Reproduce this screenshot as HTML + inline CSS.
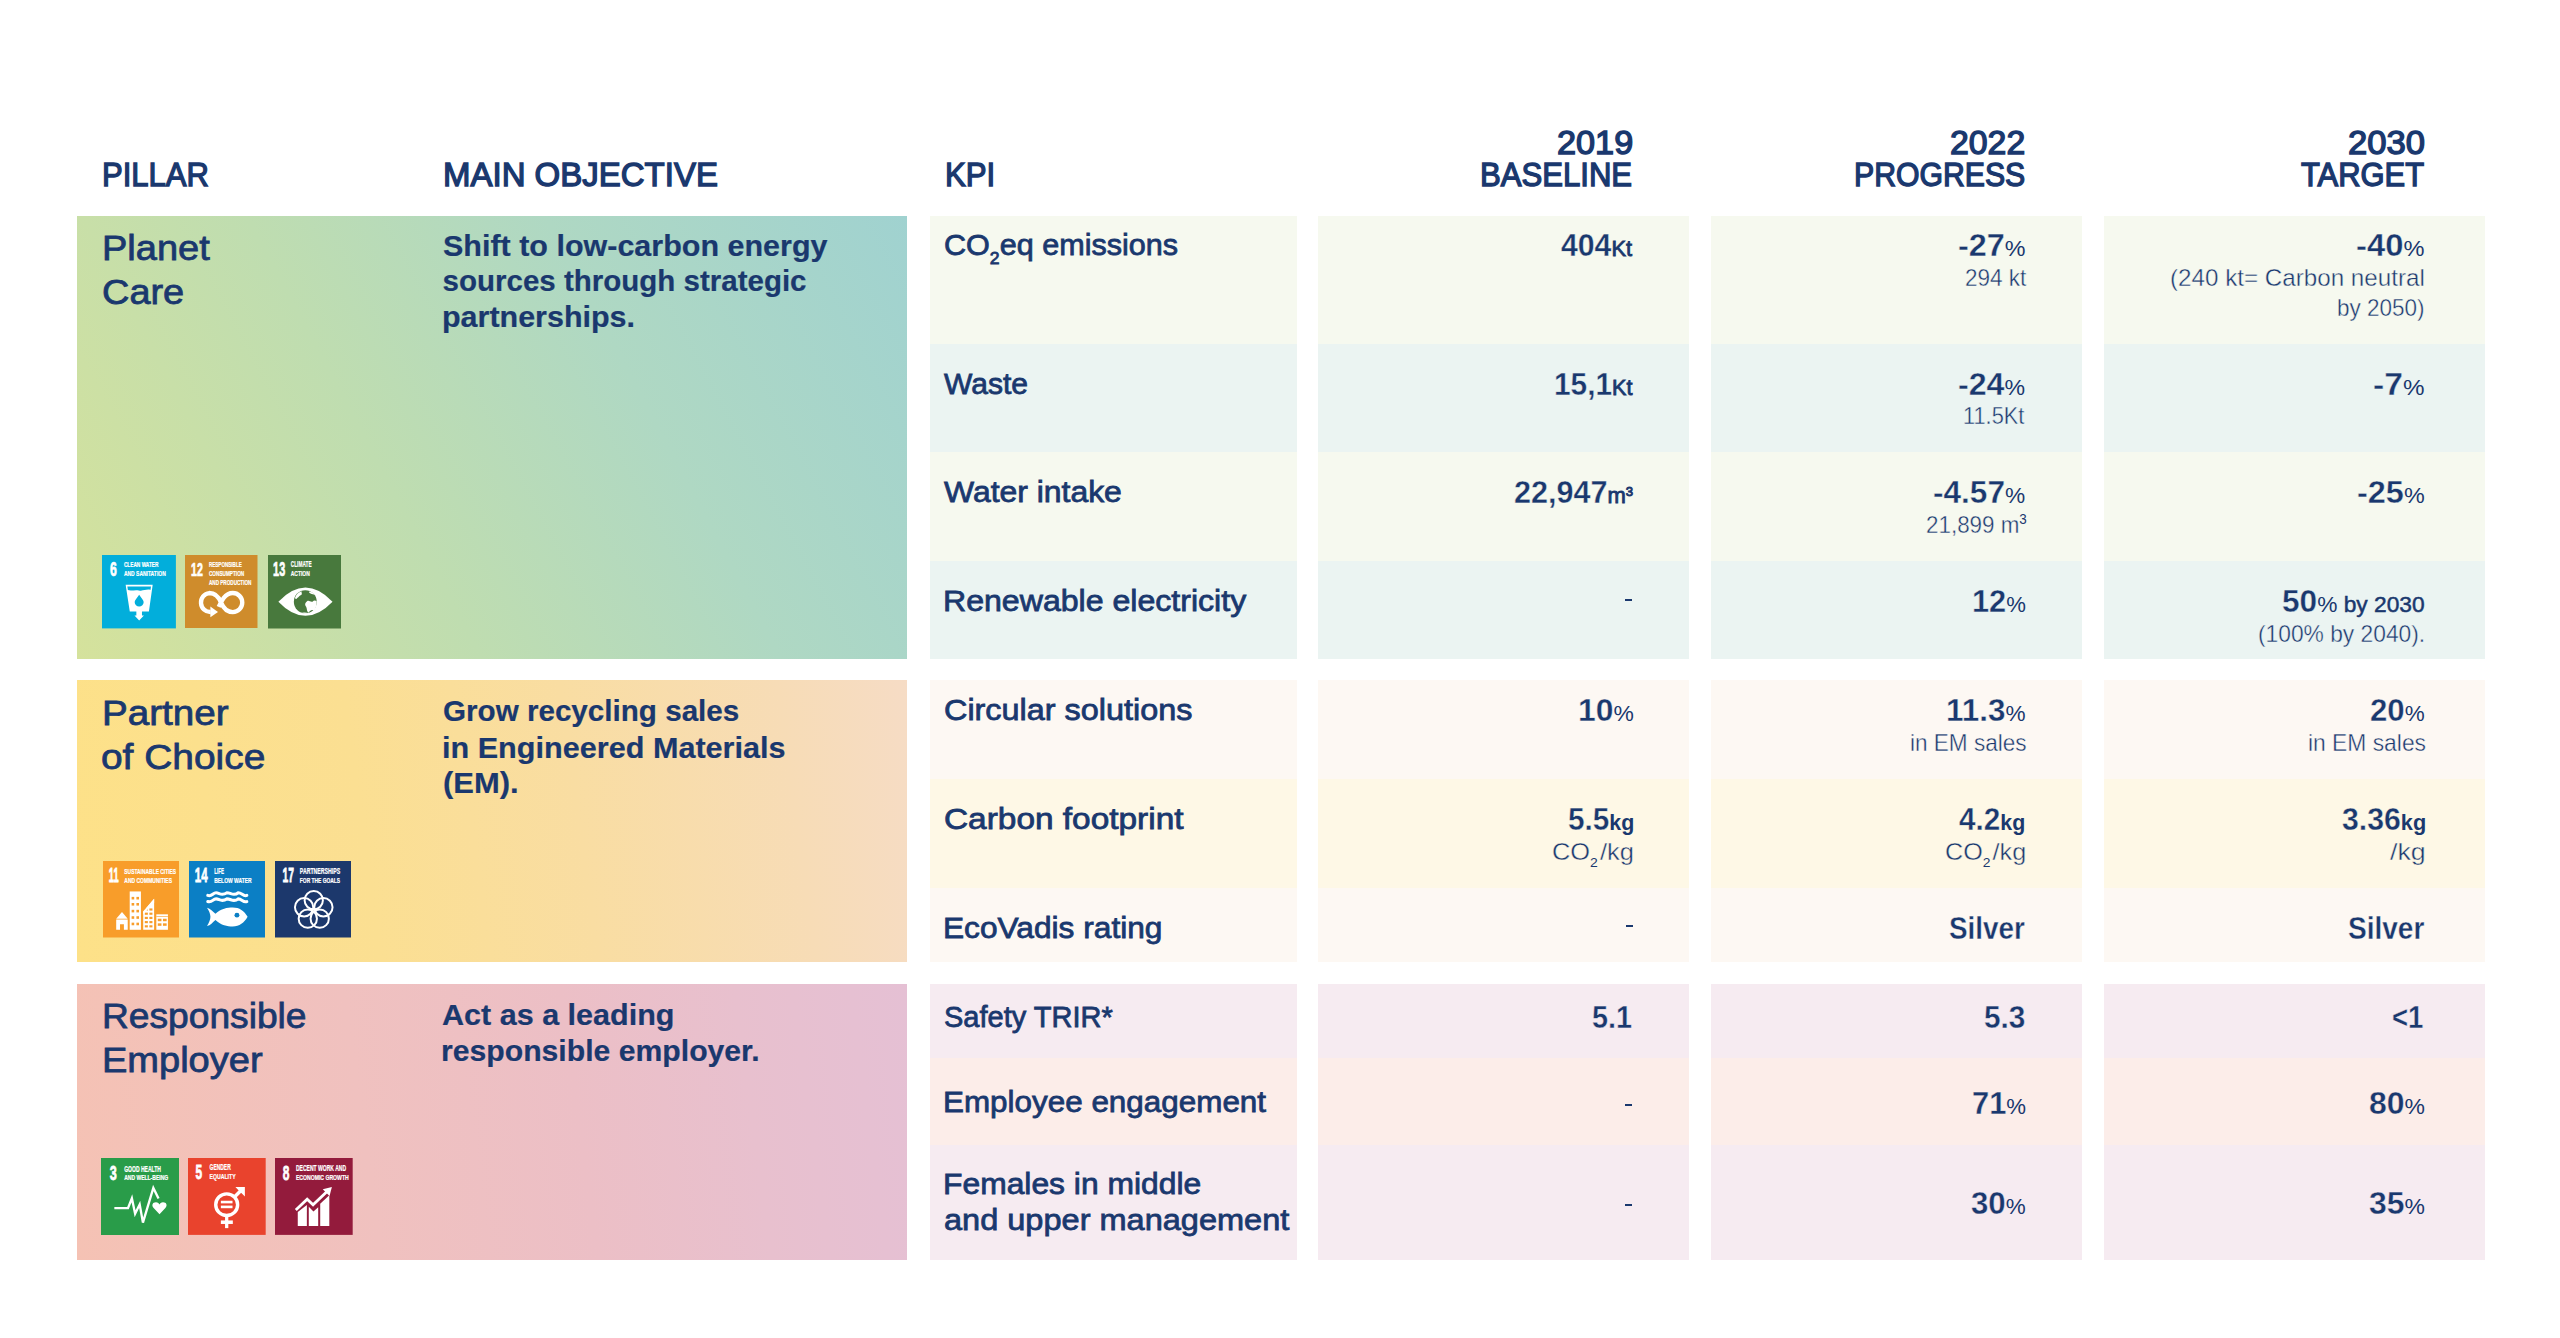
<!DOCTYPE html>
<html><head><meta charset="utf-8"><title>KPI</title><style>
*{margin:0;padding:0;box-sizing:border-box}
html,body{width:2560px;height:1338px;overflow:hidden;background:#fff}
body{position:relative;font-family:"Liberation Sans",sans-serif;color:#1a386e}
.t{position:absolute;white-space:nowrap;line-height:1;transform-origin:0 0}
.u{font-size:0.72em;font-weight:400;-webkit-text-stroke:0}
.um{font-size:0.72em;font-weight:400;-webkit-text-stroke:0.9px #1a386e}
.ub{font-size:0.72em;font-weight:700;-webkit-text-stroke:0}
.sup{font-size:0.6em;vertical-align:0.55em}
.sup2{font-size:0.6em;vertical-align:0.6em;-webkit-text-stroke:0}
.sb{font-size:0.575em;vertical-align:-0.54em}
.sb2{font-size:0.55em;vertical-align:-0.52em;-webkit-text-stroke:0}
.c{position:absolute}
.ic{position:absolute;display:block}
</style></head><body>
<div class="c" style="left:77px;top:216px;width:830px;height:443px;background:linear-gradient(62deg,#d5e29c 0%,#bfddb0 38%,#afd8c3 66%,#a0d2d0 100%)"></div>
<div class="c" style="left:77px;top:680px;width:830px;height:282px;background:linear-gradient(82deg,#fde188 0%,#fbdf92 35%,#f9dda2 60%,#f7dcb6 85%,#f6dcc5 100%)"></div>
<div class="c" style="left:77px;top:984px;width:830px;height:276px;background:linear-gradient(82deg,#f5c2b4 0%,#f0c1bf 35%,#ecbfc6 60%,#e8c0ce 80%,#e5c0d4 100%)"></div>
<div class="c" style="left:930px;top:216px;width:367px;height:128px;background:#f6f9ef"></div>
<div class="c" style="left:1318px;top:216px;width:371px;height:128px;background:#f6f9ef"></div>
<div class="c" style="left:1711px;top:216px;width:371px;height:128px;background:#f6f9ef"></div>
<div class="c" style="left:2104px;top:216px;width:381px;height:128px;background:#f6f9ef"></div>
<div class="c" style="left:930px;top:344px;width:367px;height:108px;background:#ebf4f2"></div>
<div class="c" style="left:1318px;top:344px;width:371px;height:108px;background:#ebf4f2"></div>
<div class="c" style="left:1711px;top:344px;width:371px;height:108px;background:#ebf4f2"></div>
<div class="c" style="left:2104px;top:344px;width:381px;height:108px;background:#ebf4f2"></div>
<div class="c" style="left:930px;top:452px;width:367px;height:109px;background:#f6f9ef"></div>
<div class="c" style="left:1318px;top:452px;width:371px;height:109px;background:#f6f9ef"></div>
<div class="c" style="left:1711px;top:452px;width:371px;height:109px;background:#f6f9ef"></div>
<div class="c" style="left:2104px;top:452px;width:381px;height:109px;background:#f6f9ef"></div>
<div class="c" style="left:930px;top:561px;width:367px;height:98px;background:#ebf4f2"></div>
<div class="c" style="left:1318px;top:561px;width:371px;height:98px;background:#ebf4f2"></div>
<div class="c" style="left:1711px;top:561px;width:371px;height:98px;background:#ebf4f2"></div>
<div class="c" style="left:2104px;top:561px;width:381px;height:98px;background:#ebf4f2"></div>
<div class="c" style="left:930px;top:680px;width:367px;height:99px;background:#fdf8f3"></div>
<div class="c" style="left:1318px;top:680px;width:371px;height:99px;background:#fdf8f3"></div>
<div class="c" style="left:1711px;top:680px;width:371px;height:99px;background:#fdf8f3"></div>
<div class="c" style="left:2104px;top:680px;width:381px;height:99px;background:#fdf8f3"></div>
<div class="c" style="left:930px;top:779px;width:367px;height:109px;background:#fef8e6"></div>
<div class="c" style="left:1318px;top:779px;width:371px;height:109px;background:#fef8e6"></div>
<div class="c" style="left:1711px;top:779px;width:371px;height:109px;background:#fef8e6"></div>
<div class="c" style="left:2104px;top:779px;width:381px;height:109px;background:#fef8e6"></div>
<div class="c" style="left:930px;top:888px;width:367px;height:74px;background:#fdf8f3"></div>
<div class="c" style="left:1318px;top:888px;width:371px;height:74px;background:#fdf8f3"></div>
<div class="c" style="left:1711px;top:888px;width:371px;height:74px;background:#fdf8f3"></div>
<div class="c" style="left:2104px;top:888px;width:381px;height:74px;background:#fdf8f3"></div>
<div class="c" style="left:930px;top:984px;width:367px;height:74px;background:#f6ebf1"></div>
<div class="c" style="left:1318px;top:984px;width:371px;height:74px;background:#f6ebf1"></div>
<div class="c" style="left:1711px;top:984px;width:371px;height:74px;background:#f6ebf1"></div>
<div class="c" style="left:2104px;top:984px;width:381px;height:74px;background:#f6ebf1"></div>
<div class="c" style="left:930px;top:1058px;width:367px;height:87px;background:#fcede9"></div>
<div class="c" style="left:1318px;top:1058px;width:371px;height:87px;background:#fcede9"></div>
<div class="c" style="left:1711px;top:1058px;width:371px;height:87px;background:#fcede9"></div>
<div class="c" style="left:2104px;top:1058px;width:381px;height:87px;background:#fcede9"></div>
<div class="c" style="left:930px;top:1145px;width:367px;height:115px;background:#f6ebf1"></div>
<div class="c" style="left:1318px;top:1145px;width:371px;height:115px;background:#f6ebf1"></div>
<div class="c" style="left:1711px;top:1145px;width:371px;height:115px;background:#f6ebf1"></div>
<div class="c" style="left:2104px;top:1145px;width:381px;height:115px;background:#f6ebf1"></div>
<div class="c" style="left:1625px;top:599px;width:7px;height:2px;background:#1a386e"></div>
<div class="c" style="left:1626px;top:925px;width:7px;height:2px;background:#1a386e"></div>
<div class="c" style="left:1625px;top:1103.5px;width:7px;height:2px;background:#1a386e"></div>
<div class="c" style="left:1625px;top:1203.5px;width:7px;height:2px;background:#1a386e"></div>
<svg class="ic" style="left:102.3px;top:555.3px" width="73.9" height="73.4" viewBox="0 0 100 100" preserveAspectRatio="none"><rect width="100" height="100" fill="#02aedb"/><text x="10.90" y="28.10" font-family="Liberation Sans" font-weight="700" font-size="26.45" fill="#fff" stroke="#fff" stroke-width="1.0" textLength="9.20" lengthAdjust="spacingAndGlyphs">6</text><text x="29.65" y="16.55" font-family="Liberation Sans" font-weight="700" font-size="10.17" fill="#fff" stroke="#fff" stroke-width="0.3" textLength="46.80" lengthAdjust="spacingAndGlyphs">CLEAN WATER</text><text x="29.65" y="28.45" font-family="Liberation Sans" font-weight="700" font-size="10.03" fill="#fff" stroke="#fff" stroke-width="0.3" textLength="56.60" lengthAdjust="spacingAndGlyphs">AND SANITATION</text><path d="M32 40.6 H68.6 L63.5 76.9 H54.1 V82.5 H56.7 L50.3 89.3 L44 82.5 H46.5 V76.9 H37.6 Z" fill="#fff"/><path d="M34.3 42.8 H66.3 L65.6 47.6 C60 46 56 49.5 50 48.3 C44 47 40 49.5 35 47.8 Z" fill="#02aedb"/><path d="M50.3 54.3 C48 58 44.2 61.5 44.2 64.2 A6.1 6.1 0 0 0 56.4 64.2 C56.4 61.5 52.6 58 50.3 54.3 Z" fill="#02aedb"/></svg>
<svg class="ic" style="left:185.4px;top:555.3px" width="72.5" height="73.2" viewBox="0 0 100 100" preserveAspectRatio="none"><rect width="100" height="100" fill="#cf8c2c"/><text x="8.30" y="28.10" font-family="Liberation Sans" font-weight="700" font-size="26.31" fill="#fff" stroke="#fff" stroke-width="1.0" textLength="16.30" lengthAdjust="spacingAndGlyphs">12</text><text x="33.05" y="16.75" font-family="Liberation Sans" font-weight="700" font-size="10.32" fill="#fff" stroke="#fff" stroke-width="0.3" textLength="45.20" lengthAdjust="spacingAndGlyphs">RESPONSIBLE</text><text x="33.05" y="28.85" font-family="Liberation Sans" font-weight="700" font-size="10.32" fill="#fff" stroke="#fff" stroke-width="0.3" textLength="48.60" lengthAdjust="spacingAndGlyphs">CONSUMPTION</text><text x="33.05" y="40.95" font-family="Liberation Sans" font-weight="700" font-size="10.17" fill="#fff" stroke="#fff" stroke-width="0.3" textLength="58.60" lengthAdjust="spacingAndGlyphs">AND PRODUCTION</text><path d="M46.5 71 C50 63 55 52 66 52 A13 13 0 0 1 66 78 C55 78 51 68 49.75 65 C48.5 62 44 52 33.5 52 A13 13 0 0 0 35.5 77.9" fill="none" stroke="#fff" stroke-width="6"/><path d="M35 70.5 L35 85 L45.5 77.8 Z" fill="#fff"/></svg>
<svg class="ic" style="left:268.3px;top:555.1px" width="73.0" height="73.5" viewBox="0 0 100 100" preserveAspectRatio="none"><rect width="100" height="100" fill="#48793d"/><text x="7.00" y="28.20" font-family="Liberation Sans" font-weight="700" font-size="28.05" fill="#fff" stroke="#fff" stroke-width="1.0" textLength="16.60" lengthAdjust="spacingAndGlyphs">13</text><text x="31.15" y="16.95" font-family="Liberation Sans" font-weight="700" font-size="12.21" fill="#fff" stroke="#fff" stroke-width="0.3" textLength="28.60" lengthAdjust="spacingAndGlyphs">CLIMATE</text><text x="31.15" y="28.55" font-family="Liberation Sans" font-weight="700" font-size="10.17" fill="#fff" stroke="#fff" stroke-width="0.3" textLength="26.00" lengthAdjust="spacingAndGlyphs">ACTION</text><path d="M14.2 63.6 Q51.3 25 88.4 63.6 Q51.3 102 14.2 63.6 Z" fill="#fff"/><circle cx="51.1" cy="63.6" r="15.7" fill="#48793d"/><path d="M53.5 63 C56 61 58 64.5 61 63.5 C62.5 61.5 64.5 61.5 66.6 62.5 C67 68 65.5 72.5 62.5 75.5 C59.5 74 58 76 55.5 78.5 C52.5 77 54 72 51.5 69.5 C50 67 51.5 64.5 53.5 63 Z" fill="#fff"/><path d="M37 58 C38.5 53.5 42 50.5 46 49.2 C45.5 51.5 47.5 52.5 45.5 54.5 C43 55 42.5 57.5 40 58.5 C39 60.5 37.5 60 37 58 Z" fill="#fff"/><path d="M44 79 C48 77.5 53 78.2 57 79.2 C53 80.2 48 80.2 44 79 Z" fill="#fff"/><path d="M56.5 49.5 C59.5 49.8 62 51.2 64 53.5 C61.5 54 59.5 53 57.8 52 C56.5 51.5 56 50.5 56.5 49.5 Z" fill="#fff"/></svg>
<svg class="ic" style="left:102.8px;top:861.0px" width="76.3" height="76.5" viewBox="0 0 100 100" preserveAspectRatio="none"><rect width="100" height="100" fill="#f89d2a"/><text x="7.70" y="27.90" font-family="Liberation Sans" font-weight="700" font-size="26.74" fill="#fff" stroke="#fff" stroke-width="1.0" textLength="12.90" lengthAdjust="spacingAndGlyphs">11</text><text x="27.95" y="16.45" font-family="Liberation Sans" font-weight="700" font-size="10.61" fill="#fff" stroke="#fff" stroke-width="0.3" textLength="67.90" lengthAdjust="spacingAndGlyphs">SUSTAINABLE CITIES</text><text x="27.95" y="28.25" font-family="Liberation Sans" font-weight="700" font-size="9.30" fill="#fff" stroke="#fff" stroke-width="0.3" textLength="62.50" lengthAdjust="spacingAndGlyphs">AND COMMUNITIES</text><path d="M17.3 75.6 L24.9 66.7 L32.4 75.6 Z" fill="#fff"/><path d="M17.3 76.6 H32.4 V89.9 H27.4 V82.7 H22.3 V89.9 H17.3 Z" fill="#fff"/><rect x="35" y="39.8" width="14.7" height="50.1" fill="#fff"/><rect x="37.5" y="46.9" width="3.4" height="3.4" fill="#f89d2a"/><rect x="43.8" y="46.9" width="3.4" height="3.4" fill="#f89d2a"/><rect x="37.5" y="54.9" width="3.4" height="3.4" fill="#f89d2a"/><rect x="43.8" y="54.9" width="3.4" height="3.4" fill="#f89d2a"/><rect x="37.5" y="63.8" width="3.4" height="3.4" fill="#f89d2a"/><rect x="43.8" y="63.8" width="3.4" height="3.4" fill="#f89d2a"/><rect x="37.5" y="72.2" width="3.4" height="3.4" fill="#f89d2a"/><rect x="43.8" y="72.2" width="3.4" height="3.4" fill="#f89d2a"/><rect x="37.5" y="80.6" width="3.4" height="3.4" fill="#f89d2a"/><rect x="43.8" y="80.6" width="3.4" height="3.4" fill="#f89d2a"/><path d="M52.7 65.9 L67 49.5 V89.9 H52.7 Z" fill="#fff"/><rect x="54.8" y="62" width="4" height="2.8" fill="#f89d2a"/><rect x="60.8" y="62" width="4" height="2.8" fill="#f89d2a"/><rect x="54.8" y="67.5" width="4" height="2.8" fill="#f89d2a"/><rect x="60.8" y="67.5" width="4" height="2.8" fill="#f89d2a"/><rect x="54.8" y="73" width="4" height="2.8" fill="#f89d2a"/><rect x="60.8" y="73" width="4" height="2.8" fill="#f89d2a"/><rect x="54.8" y="78.5" width="4" height="2.8" fill="#f89d2a"/><rect x="60.8" y="78.5" width="4" height="2.8" fill="#f89d2a"/><rect x="54.8" y="84" width="4" height="2.8" fill="#f89d2a"/><rect x="60.8" y="84" width="4" height="2.8" fill="#f89d2a"/><path d="M52.7 65.9 L67 49.5 L67 54 L52.7 70 Z" fill="#fff"/><rect x="69.9" y="69.7" width="15.2" height="20.2" fill="#fff"/><rect x="69.9" y="72.0" width="15.2" height="0.8" fill="#f89d2a"/><rect x="71.8" y="75.5" width="4.8" height="3.2" fill="#f89d2a"/><rect x="78.6" y="75.5" width="4.8" height="3.2" fill="#f89d2a"/><rect x="71.8" y="81.5" width="4.8" height="3.2" fill="#f89d2a"/><rect x="78.6" y="81.5" width="4.8" height="3.2" fill="#f89d2a"/></svg>
<svg class="ic" style="left:188.5px;top:861.0px" width="76.6" height="76.5" viewBox="0 0 100 100" preserveAspectRatio="none"><rect width="100" height="100" fill="#0b7fc5"/><text x="7.60" y="27.90" font-family="Liberation Sans" font-weight="700" font-size="26.74" fill="#fff" stroke="#fff" stroke-width="1.0" textLength="16.70" lengthAdjust="spacingAndGlyphs">14</text><text x="32.95" y="16.65" font-family="Liberation Sans" font-weight="700" font-size="10.90" fill="#fff" stroke="#fff" stroke-width="0.3" textLength="12.70" lengthAdjust="spacingAndGlyphs">LIFE</text><text x="32.95" y="28.25" font-family="Liberation Sans" font-weight="700" font-size="9.45" fill="#fff" stroke="#fff" stroke-width="0.3" textLength="48.80" lengthAdjust="spacingAndGlyphs">BELOW WATER</text><path d="M24.5 45.0 C30 47.0 31 41.5 35.3 41.5 C40 41.5 42 46.5 49.6 41.5 C55 41.5 58 46.5 64.3 41.5 C69 41.5 71 47.0 75.5 45.0" fill="none" stroke="#fff" stroke-width="4" stroke-linecap="round"/><path d="M24.5 53.0 C30 55.0 31 49.5 35.3 49.5 C40 49.5 42 54.5 49.6 49.5 C55 49.5 58 54.5 64.3 49.5 C69 49.5 71 55.0 75.5 53.0" fill="none" stroke="#fff" stroke-width="4" stroke-linecap="round"/><path d="M23.5 61 C28 62 31 66 34.5 69 C42 62 50 60.7 57 60.7 C66 60.7 72 65 76.5 73 C72 81 66 85.5 57 85.5 C50 85.5 42 84 34.5 77 C31 80 28 84 23.5 85 C26 81 28 77 28 73 C28 69 26 65 23.5 61 Z" fill="#fff"/><circle cx="62.6" cy="70.8" r="3.2" fill="#0b7fc5"/></svg>
<svg class="ic" style="left:274.8px;top:861.0px" width="76.3" height="76.5" viewBox="0 0 100 100" preserveAspectRatio="none"><rect width="100" height="100" fill="#1c386c"/><text x="9.80" y="27.90" font-family="Liberation Sans" font-weight="700" font-size="26.74" fill="#fff" stroke="#fff" stroke-width="1.0" textLength="15.00" lengthAdjust="spacingAndGlyphs">17</text><text x="32.55" y="16.65" font-family="Liberation Sans" font-weight="700" font-size="10.90" fill="#fff" stroke="#fff" stroke-width="0.3" textLength="52.80" lengthAdjust="spacingAndGlyphs">PARTNERSHIPS</text><text x="32.55" y="28.25" font-family="Liberation Sans" font-weight="700" font-size="9.45" fill="#fff" stroke="#fff" stroke-width="0.3" textLength="52.80" lengthAdjust="spacingAndGlyphs">FOR THE GOALS</text><circle cx="50.80" cy="51.30" r="12.0" fill="none" stroke="#fff" stroke-width="2.6"/><circle cx="63.45" cy="60.49" r="12.0" fill="none" stroke="#fff" stroke-width="2.6"/><circle cx="58.62" cy="75.36" r="12.0" fill="none" stroke="#fff" stroke-width="2.6"/><circle cx="42.98" cy="75.36" r="12.0" fill="none" stroke="#fff" stroke-width="2.6"/><circle cx="38.15" cy="60.49" r="12.0" fill="none" stroke="#fff" stroke-width="2.6"/></svg>
<svg class="ic" style="left:100.9px;top:1158.1px" width="78.0" height="77.0" viewBox="0 0 100 100" preserveAspectRatio="none"><rect width="100" height="100" fill="#299c49"/><text x="11.30" y="28.40" font-family="Liberation Sans" font-weight="700" font-size="26.38" fill="#fff" stroke="#fff" stroke-width="1.0" textLength="9.00" lengthAdjust="spacingAndGlyphs">3</text><text x="29.75" y="17.55" font-family="Liberation Sans" font-weight="700" font-size="11.12" fill="#fff" stroke="#fff" stroke-width="0.3" textLength="47.20" lengthAdjust="spacingAndGlyphs">GOOD HEALTH</text><text x="29.75" y="28.75" font-family="Liberation Sans" font-weight="700" font-size="9.23" fill="#fff" stroke="#fff" stroke-width="0.3" textLength="56.35" lengthAdjust="spacingAndGlyphs">AND WELL-BEING</text><polyline points="17.1,65.2 34.6,65.2 39.6,52.3 43.75,72.25 49.6,60.2 53.75,83.9 67.1,38.9 73.75,52.7" fill="none" stroke="#fff" stroke-width="3" stroke-linejoin="miter"/><path d="M75 73 L67.5 65 C64.5 61.5 66 57.5 70.5 57.5 C73 57.5 74.3 59 75 60.5 C75.7 59 77 57.5 79.5 57.5 C84 57.5 85.5 61.5 82.5 65 Z" fill="#fff"/></svg>
<svg class="ic" style="left:188.2px;top:1158.2px" width="77.7" height="76.9" viewBox="0 0 100 100" preserveAspectRatio="none"><rect width="100" height="100" fill="#e9432d"/><text x="9.70" y="26.70" font-family="Liberation Sans" font-weight="700" font-size="27.18" fill="#fff" stroke="#fff" stroke-width="1.0" textLength="8.60" lengthAdjust="spacingAndGlyphs">5</text><text x="27.75" y="16.15" font-family="Liberation Sans" font-weight="700" font-size="11.05" fill="#fff" stroke="#fff" stroke-width="0.3" textLength="27.30" lengthAdjust="spacingAndGlyphs">GENDER</text><text x="27.75" y="27.85" font-family="Liberation Sans" font-weight="700" font-size="9.88" fill="#fff" stroke="#fff" stroke-width="0.3" textLength="33.60" lengthAdjust="spacingAndGlyphs">EQUALITY</text><circle cx="49.8" cy="60.7" r="14.1" fill="none" stroke="#fff" stroke-width="4.4"/><rect x="42.3" y="55.6" width="15" height="3.4" fill="#fff"/><rect x="42.3" y="61.9" width="15" height="3.4" fill="#fff"/><rect x="47.7" y="74" width="4.2" height="17.2" fill="#fff"/><rect x="42.3" y="81.2" width="15.4" height="4.6" fill="#fff"/><path d="M59.5 51 L69.5 41" stroke="#fff" stroke-width="4.4"/><path d="M61 37.7 H73.2 V50.2 L69 46 L65 42 Z" fill="#fff"/></svg>
<svg class="ic" style="left:275.2px;top:1158.2px" width="77.7" height="76.9" viewBox="0 0 100 100" preserveAspectRatio="none"><rect width="100" height="100" fill="#931b3c"/><text x="10.10" y="28.40" font-family="Liberation Sans" font-weight="700" font-size="26.60" fill="#fff" stroke="#fff" stroke-width="1.0" textLength="8.60" lengthAdjust="spacingAndGlyphs">8</text><text x="26.95" y="17.45" font-family="Liberation Sans" font-weight="700" font-size="11.19" fill="#fff" stroke="#fff" stroke-width="0.3" textLength="64.50" lengthAdjust="spacingAndGlyphs">DECENT WORK AND</text><text x="26.95" y="28.75" font-family="Liberation Sans" font-weight="700" font-size="9.30" fill="#fff" stroke="#fff" stroke-width="0.3" textLength="67.90" lengthAdjust="spacingAndGlyphs">ECONOMIC GROWTH</text><path d="M29.3 70.3 L41 61 V88.3 H29.3 Z" fill="#fff"/><path d="M43.5 63.5 L49.5 69.5 L55.6 64 V88.3 H43.5 Z" fill="#fff"/><path d="M58.2 59.4 L69.9 48.5 V88.3 H58.2 Z" fill="#fff"/><polyline points="26.8,67.5 41.4,53.6 49,60.8 67,43.5" fill="none" stroke="#fff" stroke-width="3.6"/><path d="M73.2 37.7 L61.5 40.8 L70.2 49.4 Z" fill="#fff"/></svg>
<div class="t" style="left:102.18px;top:157.30px;font-size:34px;font-weight:400;-webkit-text-stroke:1.4px #1a386e;transform:scaleX(0.9123)">PILLAR</div>
<div class="t" style="left:442.76px;top:157.30px;font-size:34px;font-weight:400;-webkit-text-stroke:1.4px #1a386e;transform:scaleX(0.9701)">MAIN OBJECTIVE</div>
<div class="t" style="left:944.67px;top:157.30px;font-size:34px;font-weight:400;-webkit-text-stroke:1.4px #1a386e;transform:scaleX(0.9160)">KPI</div>
<div class="t" style="left:1556.69px;top:125.00px;font-size:34px;font-weight:400;-webkit-text-stroke:1.4px #1a386e;transform:scaleX(1.0081)">2019</div>
<div class="t" style="left:1480.07px;top:157.40px;font-size:34px;font-weight:400;-webkit-text-stroke:1.4px #1a386e;transform:scaleX(0.9146)">BASELINE</div>
<div class="t" style="left:1949.81px;top:125.00px;font-size:34px;font-weight:400;-webkit-text-stroke:1.4px #1a386e;transform:scaleX(0.9946)">2022</div>
<div class="t" style="left:1854.22px;top:157.40px;font-size:34px;font-weight:400;-webkit-text-stroke:1.4px #1a386e;transform:scaleX(0.8884)">PROGRESS</div>
<div class="t" style="left:2347.98px;top:125.00px;font-size:34px;font-weight:400;-webkit-text-stroke:1.4px #1a386e;transform:scaleX(1.0189)">2030</div>
<div class="t" style="left:2301.25px;top:157.40px;font-size:34px;font-weight:400;-webkit-text-stroke:1.4px #1a386e;transform:scaleX(0.9093)">TARGET</div>
<div class="t" style="left:101.86px;top:231.10px;font-size:35.5px;font-weight:400;-webkit-text-stroke:0.8px #1a386e;transform:scaleX(1.0707)">Planet</div>
<div class="t" style="left:102.23px;top:274.90px;font-size:35.5px;font-weight:400;-webkit-text-stroke:0.8px #1a386e;transform:scaleX(1.0680)">Care</div>
<div class="t" style="left:101.83px;top:696.10px;font-size:35.5px;font-weight:400;-webkit-text-stroke:0.8px #1a386e;transform:scaleX(1.0868)">Partner</div>
<div class="t" style="left:101.40px;top:739.90px;font-size:35.5px;font-weight:400;-webkit-text-stroke:0.8px #1a386e;transform:scaleX(1.0953)">of Choice</div>
<div class="t" style="left:101.91px;top:998.60px;font-size:35.5px;font-weight:400;-webkit-text-stroke:0.8px #1a386e;transform:scaleX(1.0466)">Responsible</div>
<div class="t" style="left:101.86px;top:1042.70px;font-size:35.5px;font-weight:400;-webkit-text-stroke:0.8px #1a386e;transform:scaleX(1.0709)">Employer</div>
<div class="t" style="left:442.57px;top:231.10px;font-size:29.5px;font-weight:700;-webkit-text-stroke:0.2px #1a386e;transform:scaleX(1.0334)">Shift to low-carbon energy</div>
<div class="t" style="left:442.60px;top:266.40px;font-size:29.5px;font-weight:700;-webkit-text-stroke:0.2px #1a386e;transform:scaleX(1.0000)">sources through strategic</div>
<div class="t" style="left:441.53px;top:302.40px;font-size:29.5px;font-weight:700;-webkit-text-stroke:0.2px #1a386e;transform:scaleX(1.0328)">partnerships.</div>
<div class="t" style="left:442.70px;top:696.30px;font-size:29.5px;font-weight:700;-webkit-text-stroke:0.2px #1a386e;transform:scaleX(1.0038)">Grow recycling sales</div>
<div class="t" style="left:441.62px;top:732.50px;font-size:29.5px;font-weight:700;-webkit-text-stroke:0.2px #1a386e;transform:scaleX(1.0375)">in Engineered Materials</div>
<div class="t" style="left:442.65px;top:767.60px;font-size:29.5px;font-weight:700;-webkit-text-stroke:0.2px #1a386e;transform:scaleX(1.0478)">(EM).</div>
<div class="t" style="left:441.96px;top:1000.10px;font-size:29.5px;font-weight:700;-webkit-text-stroke:0.2px #1a386e;transform:scaleX(1.0351)">Act as a leading</div>
<div class="t" style="left:440.95px;top:1035.70px;font-size:29.5px;font-weight:700;-webkit-text-stroke:0.2px #1a386e;transform:scaleX(1.0227)">responsible employer.</div>
<div class="t" style="left:943.99px;top:230.45px;font-size:30.2px;font-weight:400;-webkit-text-stroke:0.8px #1a386e;transform:scaleX(1.0130)">CO<span class="sb">2</span>eq emissions</div>
<div class="t" style="left:944.40px;top:368.95px;font-size:30.2px;font-weight:400;-webkit-text-stroke:0.8px #1a386e;transform:scaleX(0.9952)">Waste</div>
<div class="t" style="left:944.40px;top:477.30px;font-size:30.2px;font-weight:400;-webkit-text-stroke:0.8px #1a386e;transform:scaleX(1.0565)">Water intake</div>
<div class="t" style="left:943.47px;top:586.45px;font-size:30.2px;font-weight:400;-webkit-text-stroke:0.8px #1a386e;transform:scaleX(1.0630)">Renewable electricity</div>
<div class="t" style="left:943.63px;top:694.90px;font-size:30.2px;font-weight:400;-webkit-text-stroke:0.8px #1a386e;transform:scaleX(1.0730)">Circular solutions</div>
<div class="t" style="left:943.59px;top:803.70px;font-size:30.2px;font-weight:400;-webkit-text-stroke:0.8px #1a386e;transform:scaleX(1.1065)">Carbon footprint</div>
<div class="t" style="left:942.60px;top:912.50px;font-size:30.2px;font-weight:400;-webkit-text-stroke:0.8px #1a386e;transform:scaleX(1.0490)">EcoVadis rating</div>
<div class="t" style="left:944.34px;top:1001.90px;font-size:30.2px;font-weight:400;-webkit-text-stroke:0.8px #1a386e;transform:scaleX(0.9611)">Safety TRIR*</div>
<div class="t" style="left:943.22px;top:1087.30px;font-size:30.2px;font-weight:400;-webkit-text-stroke:0.8px #1a386e;transform:scaleX(1.0405)">Employee engagement</div>
<div class="t" style="left:943.19px;top:1169.20px;font-size:30.2px;font-weight:400;-webkit-text-stroke:0.8px #1a386e;transform:scaleX(1.0541)">Females in middle</div>
<div class="t" style="left:944.22px;top:1205.10px;font-size:30.2px;font-weight:400;-webkit-text-stroke:0.8px #1a386e;transform:scaleX(1.0772)">and upper management</div>
<div class="t" style="left:1561.04px;top:229.90px;font-size:31.5px;font-weight:700;-webkit-text-stroke:0.35px #f6f9ef;transform:scaleX(0.9595)">404<span class="um">Kt</span></div>
<div class="t" style="left:1554.01px;top:368.70px;font-size:31.5px;font-weight:700;-webkit-text-stroke:0.35px #ebf4f2;transform:scaleX(0.9469)">15,1<span class="um">Kt</span></div>
<div class="t" style="left:1513.83px;top:477.30px;font-size:31.5px;font-weight:700;-webkit-text-stroke:0.35px #f6f9ef;transform:scaleX(0.9705)">22,947<span class="um">m<span class="sup">3</span></span></div>
<div class="t" style="left:1578.28px;top:695.10px;font-size:31.5px;font-weight:700;-webkit-text-stroke:0.35px #fdf8f3;transform:scaleX(1.0096)">10<span class="u">%</span></div>
<div class="t" style="left:1567.66px;top:803.60px;font-size:31.5px;font-weight:700;-webkit-text-stroke:0.35px #fef8e6;transform:scaleX(0.9441)">5.5<span class="ub">kg</span></div>
<div class="t" style="left:1551.94px;top:840.00px;font-size:24px;font-weight:400;-webkit-text-stroke:0.4px #fef8e6;transform:scaleX(1.0587)">CO<span class="sb2">2</span>&#8202;/kg</div>
<div class="t" style="left:1592.09px;top:1002.00px;font-size:31.5px;font-weight:700;-webkit-text-stroke:0.35px #f6ebf1;transform:scaleX(0.9143)">5.1</div>
<div class="t" style="left:1957.97px;top:229.90px;font-size:31.5px;font-weight:700;-webkit-text-stroke:0.35px #f6f9ef;transform:scaleX(1.0281)">-27<span class="u">%</span></div>
<div class="t" style="left:1964.66px;top:265.70px;font-size:24px;font-weight:400;-webkit-text-stroke:0.4px #f6f9ef;transform:scaleX(0.9375)">294 kt</div>
<div class="t" style="left:1958.18px;top:368.70px;font-size:31.5px;font-weight:700;-webkit-text-stroke:0.35px #ebf4f2;transform:scaleX(1.0203)">-24<span class="u">%</span></div>
<div class="t" style="left:1962.78px;top:403.90px;font-size:24px;font-weight:400;-webkit-text-stroke:0.4px #ebf4f2;transform:scaleX(0.9076)">11.5Kt</div>
<div class="t" style="left:1933.30px;top:476.70px;font-size:31.5px;font-weight:700;-webkit-text-stroke:0.35px #f6f9ef;transform:scaleX(1.0022)">-4.57<span class="u">%</span></div>
<div class="t" style="left:1925.97px;top:512.38px;font-size:24px;font-weight:400;-webkit-text-stroke:0.4px #f6f9ef;transform:scaleX(0.9330)">21,899 m<span class="sup2">3</span></div>
<div class="t" style="left:1971.95px;top:585.80px;font-size:31.5px;font-weight:700;-webkit-text-stroke:0.35px #ebf4f2;transform:scaleX(0.9769)">12<span class="u">%</span></div>
<div class="t" style="left:1945.61px;top:695.00px;font-size:31.5px;font-weight:700;-webkit-text-stroke:0.35px #fdf8f3;transform:scaleX(0.9974)">11.3<span class="u">%</span></div>
<div class="t" style="left:1909.82px;top:730.70px;font-size:24px;font-weight:400;-webkit-text-stroke:0.4px #fdf8f3;transform:scaleX(0.9397)">in EM sales</div>
<div class="t" style="left:1959.36px;top:804.00px;font-size:31.5px;font-weight:700;-webkit-text-stroke:0.35px #fef8e6;transform:scaleX(0.9426)">4.2<span class="ub">kg</span></div>
<div class="t" style="left:1944.65px;top:840.00px;font-size:24px;font-weight:400;-webkit-text-stroke:0.4px #fef8e6;transform:scaleX(1.0493)">CO<span class="sb2">2</span>&#8202;/kg</div>
<div class="t" style="left:1949.32px;top:912.50px;font-size:31.5px;font-weight:700;-webkit-text-stroke:0.35px #fdf8f3;transform:scaleX(0.8833)">Silver</div>
<div class="t" style="left:1983.95px;top:1001.60px;font-size:31.5px;font-weight:700;-webkit-text-stroke:0.35px #f6ebf1;transform:scaleX(0.9452)">5.3</div>
<div class="t" style="left:1971.62px;top:1087.70px;font-size:31.5px;font-weight:700;-webkit-text-stroke:0.35px #fcede9;transform:scaleX(0.9792)">71<span class="u">%</span></div>
<div class="t" style="left:1971.01px;top:1187.90px;font-size:31.5px;font-weight:700;-webkit-text-stroke:0.35px #f6ebf1;transform:scaleX(0.9906)">30<span class="u">%</span></div>
<div class="t" style="left:2355.96px;top:229.90px;font-size:31.5px;font-weight:700;-webkit-text-stroke:0.35px #f6f9ef;transform:scaleX(1.0406)">-40<span class="u">%</span></div>
<div class="t" style="left:2169.98px;top:265.60px;font-size:24px;font-weight:400;-webkit-text-stroke:0.4px #f6f9ef;transform:scaleX(1.0080)">(240 kt= Carbon neutral</div>
<div class="t" style="left:2336.72px;top:295.60px;font-size:24px;font-weight:400;-webkit-text-stroke:0.4px #f6f9ef;transform:scaleX(0.9378)">by 2050)</div>
<div class="t" style="left:2373.43px;top:368.70px;font-size:31.5px;font-weight:700;-webkit-text-stroke:0.35px #ebf4f2;transform:scaleX(1.0674)">-7<span class="u">%</span></div>
<div class="t" style="left:2356.67px;top:476.70px;font-size:31.5px;font-weight:700;-webkit-text-stroke:0.35px #f6f9ef;transform:scaleX(1.0297)">-25<span class="u">%</span></div>
<div class="t" style="left:2281.60px;top:586.00px;font-size:31.5px;font-weight:700;-webkit-text-stroke:0.35px #ebf4f2;transform:scaleX(1.0028)">50<span class="u">%</span><span class="um" style="-webkit-text-stroke-width:0.5px"> by 2030</span></div>
<div class="t" style="left:2257.60px;top:622.10px;font-size:24px;font-weight:400;-webkit-text-stroke:0.4px #ebf4f2;transform:scaleX(0.9494)">(100% by 2040).</div>
<div class="t" style="left:2370.21px;top:695.00px;font-size:31.5px;font-weight:700;-webkit-text-stroke:0.35px #fdf8f3;transform:scaleX(0.9906)">20<span class="u">%</span></div>
<div class="t" style="left:2307.50px;top:730.70px;font-size:24px;font-weight:400;-webkit-text-stroke:0.4px #fdf8f3;transform:scaleX(0.9512)">in EM sales</div>
<div class="t" style="left:2341.54px;top:804.00px;font-size:31.5px;font-weight:700;-webkit-text-stroke:0.35px #fef8e6;transform:scaleX(0.9588)">3.36<span class="ub">kg</span></div>
<div class="t" style="left:2389.50px;top:840.00px;font-size:24px;font-weight:400;-webkit-text-stroke:0.4px #fef8e6;transform:scaleX(1.1129)">/kg</div>
<div class="t" style="left:2348.41px;top:912.50px;font-size:31.5px;font-weight:700;-webkit-text-stroke:0.35px #fdf8f3;transform:scaleX(0.8893)">Silver</div>
<div class="t" style="left:2392.23px;top:1002.00px;font-size:31.5px;font-weight:700;-webkit-text-stroke:0.35px #f6ebf1;transform:scaleX(0.8735)">&lt;1</div>
<div class="t" style="left:2369.19px;top:1087.70px;font-size:31.5px;font-weight:700;-webkit-text-stroke:0.35px #fcede9;transform:scaleX(1.0132)">80<span class="u">%</span></div>
<div class="t" style="left:2369.19px;top:1187.90px;font-size:31.5px;font-weight:700;-webkit-text-stroke:0.35px #f6ebf1;transform:scaleX(1.0132)">35<span class="u">%</span></div>
</body></html>
